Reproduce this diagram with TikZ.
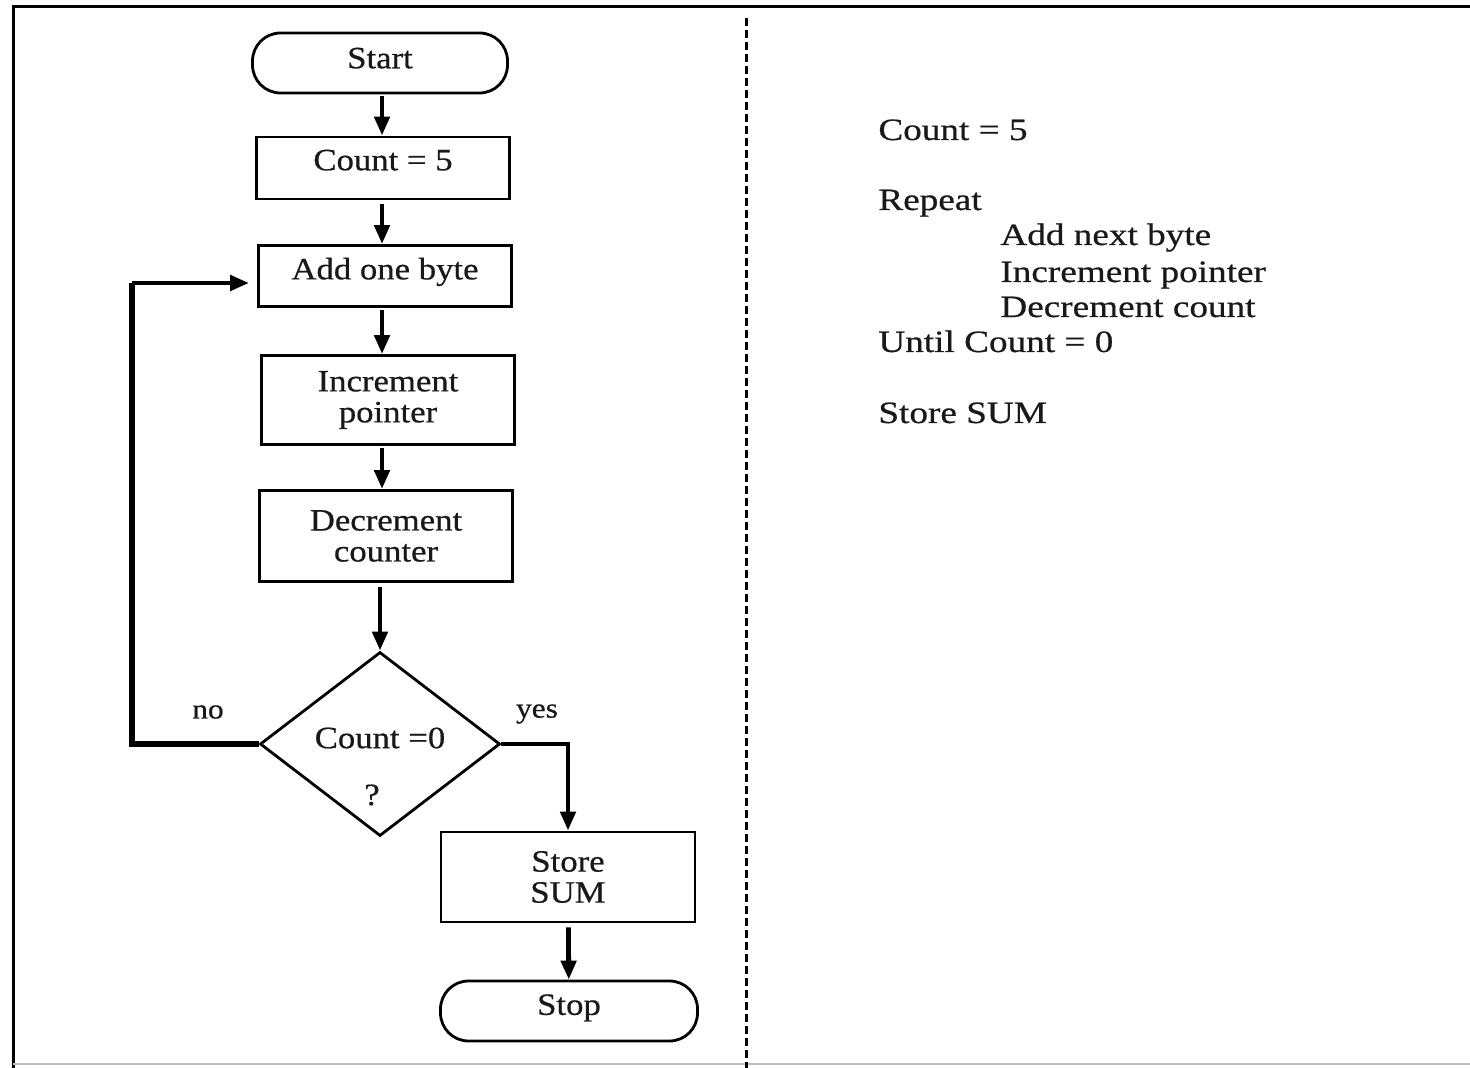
\documentclass[tikz,border=0pt]{standalone}
\usepackage{fontspec}
\setmainfont[FakeStretch=1.12,FakeBold=0.6]{Liberation Serif}
\newfontfamily\codefont[FakeStretch=1.2,FakeBold=0.6]{Liberation Serif}
\usetikzlibrary{arrows.meta,shapes.geometric}

\tikzset{
  boxtext/.style={font=\fontsize{15.5pt}{15.5pt}\selectfont, align=center, text=black!90},
  procbox/.style={boxtext, draw, line width=1.4pt, rectangle, inner sep=0pt,
                  minimum width=126.5pt},
  terminal/.style={boxtext, draw, line width=1.4pt, rectangle, rounded corners=14pt,
                   inner sep=0pt, minimum height=30pt},
  decision/.style={draw, diamond, line width=1.4pt, inner sep=0pt,
                   minimum width=120pt, minimum height=92pt},
  flow/.style={line width=2.4pt, -{Triangle[length=9.5pt,width=7.5pt]}},
  loopline/.style={line width=2.6pt},
  branchlbl/.style={font=\fontsize{14pt}{14pt}\selectfont, text=black!90},
  codeline/.style={font=\codefont\fontsize{15.5pt}{15.5pt}\selectfont, anchor=base west,
                   inner sep=0pt, text=black!90}
}

\begin{document}
\begin{tikzpicture}[x=0.5pt,y=-0.5pt]
  \useasboundingbox (0,0) rectangle (1470,1068);
  \fill[white] (0,0) rectangle (1470,1068);

  % outer frame and the dashed divider between chart and pseudocode
  \draw[line width=1.5pt] (1470,7) -- (13,7) -- (13,1068);
  \draw[black!25, line width=1pt] (13,1064) -- (1470,1064);
  \draw[line width=1.5pt, dash pattern=on 4pt off 2pt] (746,18) -- (746,1068);

  % flowchart
  \node[terminal, minimum width=127.5pt, text depth=5pt] (start) at (380,63) {Start};
  \node[procbox, minimum height=31pt, text depth=8pt] (cnt) at (383,168) {Count = 5};
  \node[procbox, minimum height=30.5pt, text depth=7.4pt] (add) at (385,276) {Add one byte};
  \node[procbox, minimum height=44.5pt] (inc) at (388,400) {Increment\\pointer};
  \node[procbox, minimum height=45.5pt] (dec) at (386,536) {Decrement\\counter};
  \node[decision] (test) at (380,744) {};
  \node[boxtext] (testq) at (380,738) {Count =0};
  \node[boxtext] (testmark) at (372,795) {?};
  \node[procbox, minimum width=127pt, minimum height=45pt] (store) at (568,877) {Store\\SUM};
  \node[terminal, minimum width=128.5pt, text depth=6.4pt] (stop) at (569,1011) {Stop};

  % main flow runs straight down one vertical line
  \coordinate (spine) at (382,0);
  \draw[flow, shorten <=1pt] (start.south -| spine) -- (cnt.north -| spine);
  \draw[flow, shorten <=2pt] (cnt.south -| spine) -- (add.north -| spine);
  \draw[flow, shorten <=1pt] (add.south -| spine) -- (inc.north -| spine);
  \draw[flow, shorten <=1pt] (inc.south -| spine) -- (dec.north -| spine);
  \draw[flow, shorten <=2pt] (dec.south -| test.north) -- (test.north);

  % "no" branch loops back to the adder
  \coordinate (notop) at (132,283);
  \coordinate (noturn) at (test.west -| notop);
  \draw[loopline] (test.west) -- (noturn) -- (notop);
  \draw[flow, shorten >=4pt] (notop) -- (add.west |- notop);
  \node[branchlbl] (nolbl) at (208,712) {no};

  % "yes" branch continues to storing the sum
  \draw[flow] (test.east) -| (store.north);
  \node[branchlbl] (yeslbl) at (537,714) {yes};
  \draw[flow, shorten <=2pt] (store) -- (stop);

  % pseudocode
  \node[codeline] (p1) at (878,140) {Count = 5};
  \node[codeline] (p2) at (878,210) {Repeat};
  \node[codeline] (p3) at (1000,245) {Add next byte};
  \node[codeline] (p4) at (1000,282) {Increment pointer};
  \node[codeline] (p5) at (1000,317) {Decrement count};
  \node[codeline] (p6) at (878,352) {Until Count = 0};
  \node[codeline] (p7) at (878,423) {Store SUM};
\end{tikzpicture}
\end{document}
